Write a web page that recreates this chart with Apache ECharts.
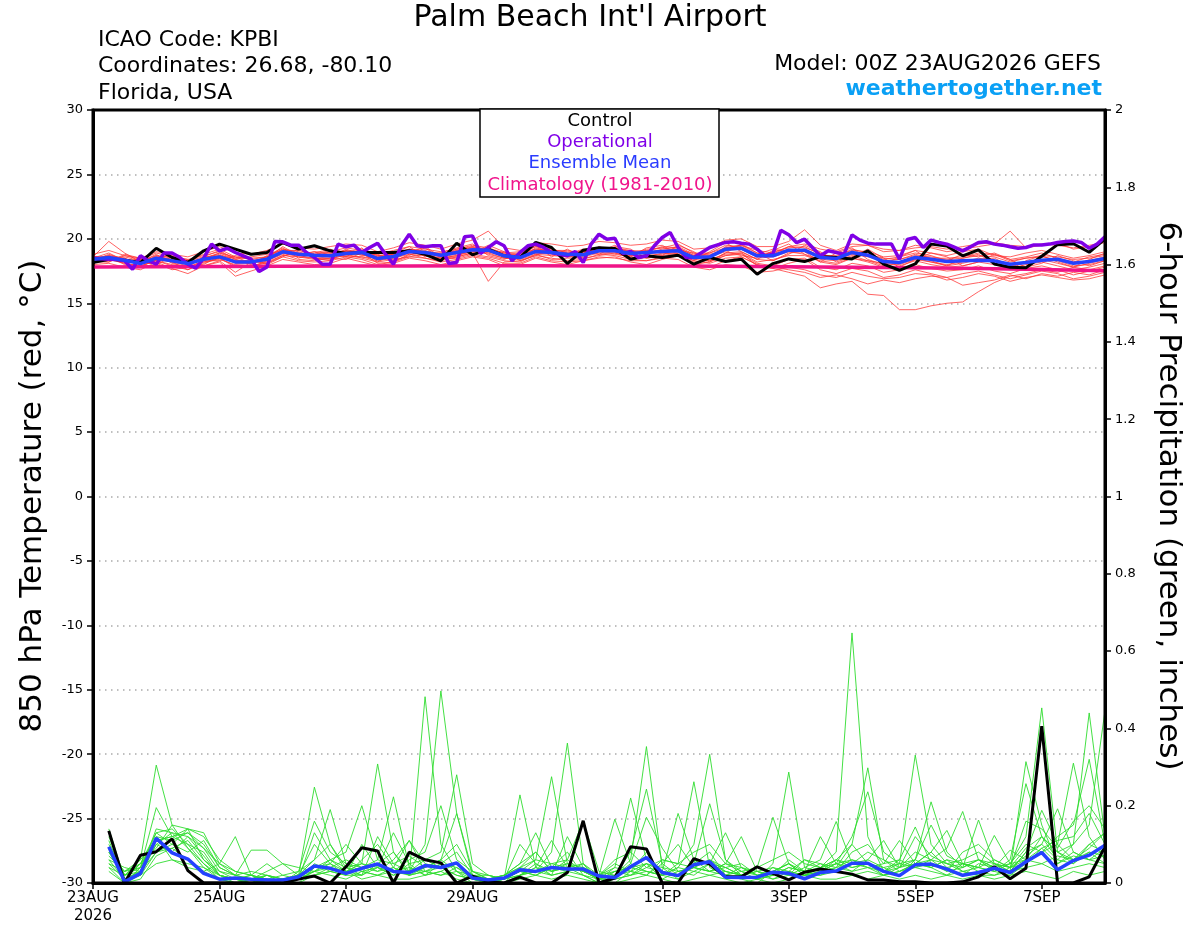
<!DOCTYPE html>
<html><head><meta charset="utf-8">
<script src="https://cdn.jsdelivr.net/npm/echarts@6/dist/echarts.min.js"></script>
<style>html,body{margin:0;padding:0;background:#fff}#c{width:1200px;height:927px}</style>
</head><body><div id="c"></div>
<script>
const FONT = 'DejaVu Sans';
const xTickHours = [0, 48, 96, 144, 216, 264, 312, 360];
const xTickLabels = ['23AUG\n2026', '25AUG', '27AUG', '29AUG', '1SEP', '3SEP', '5SEP', '7SEP'];

// 850 hPa temperature, 6-hourly from 00Z 23AUG (i*6 h)
const tempControl = [
18.16,18.42,18.34,18.16,19.27,18.55,18.16,19.07,19.59,19.20,
18.80,18.94,19.70,19.20,19.46,19.07,18.86,18.94,18.94,18.94,
19.07,18.80,18.29,19.66,18.76,19.20,18.68,18.55,19.72,19.33,
18.08,19.12,19.30,19.25,18.42,18.68,18.55,18.73,18.03,18.55,
18.24,18.42,17.25,18.08,18.44,18.24,18.60,18.55,18.44,19.07,
18.03,17.56,18.05,19.59,19.45,18.68,19.15,18.05,17.80,17.75,
18.65,19.55,19.62,18.96,20.00];
const tempEnsMean = [
18.42,18.55,18.34,18.08,18.50,18.29,18.08,18.42,18.60,18.21,
18.21,18.42,18.99,18.81,18.73,18.68,18.86,18.94,18.47,18.63,
19.02,18.94,18.73,18.94,19.15,19.12,18.68,18.55,19.02,18.94,
18.81,18.76,19.07,19.07,18.86,18.94,19.02,19.07,18.55,18.60,
19.20,19.27,18.68,18.68,19.12,19.12,18.55,18.47,18.94,18.73,
18.24,18.16,18.55,18.42,18.24,18.29,18.34,18.29,18.03,18.16,
18.34,18.42,18.11,18.24,18.47];
// operational, 3-hourly (k*3 h)
const tempOperational = [
18.50,18.45,18.42,18.40,18.30,17.64,18.68,18.30,18.03,18.90,
18.90,18.55,18.03,17.72,18.50,19.59,19.07,19.27,18.94,18.68,
18.42,17.46,17.82,19.79,19.77,19.51,19.51,18.94,18.55,18.03,
18.03,19.59,19.38,19.51,18.94,19.33,19.66,18.81,18.03,19.46,
20.36,19.46,19.38,19.46,19.46,18.08,18.16,20.16,20.23,18.86,
19.33,19.77,19.46,18.29,18.94,19.46,19.59,19.33,18.94,18.81,
18.68,19.02,18.16,19.59,20.36,
19.97,20.05,18.86,19.02,18.55,18.68,19.46,20.10,20.49,19.33,
18.55,18.55,18.94,19.33,19.53,19.72,19.77,19.66,19.59,19.20,
18.68,18.81,20.67,20.31,19.70,19.97,19.33,18.68,19.07,18.94,
18.81,20.31,19.90,19.66,19.59,19.59,19.59,18.42,19.95,20.10,
19.33,19.90,19.72,19.59,19.33,19.07,19.38,19.72,19.77,19.59,
19.51,19.38,19.27,19.33,19.53,19.53,19.59,19.72,19.79,19.84,
19.72,19.27,19.59,20.16];
// climatology, daily (d*24 h)
const tempClimatology = [17.82,17.84,17.86,17.88,17.89,17.90,17.91,17.91,17.90,17.89,17.87,17.84,17.80,17.75,17.69,17.61,17.53];

const tempMembers = [
[18.6,19.8,18.9,18.2,18.8,18.1,17.8,18.6,19.1,18.4, 18.0,18.7,19.3,18.5,18.9,19.2,18.6,19.3,18.2,18.9, 19.4,18.6,18.9,19.3,19.6,18.7,18.4,18.9,19.5,18.6, 19.2,18.5,19.4,19.0,18.6,19.3,19.5,18.8,18.3,19.0, 19.7,19.0,18.4,19.1,19.6,18.8,18.2,18.9,19.3,18.4, 18.0,18.6,19.1,18.3,17.9,18.5,18.8,18.1,17.6,18.3, 18.7,18.2,17.8,18.4,18.9],
[18.2,18.5,18.6,18.3,18.0,18.6,18.4,17.9,18.3,18.7, 18.4,18.0,18.6,19.2,18.5,18.3,19.1,18.7,18.8,18.3, 18.7,19.3,18.5,18.6,18.9,19.5,19.0,18.3,18.7,19.3, 18.6,19.0,18.8,19.4,19.2,18.5,18.7,19.5,19.0,18.2, 18.9,19.6,18.9,18.3,18.8,19.5,19.0,18.2,18.6,19.2, 18.5,17.8,18.4,18.9,18.6,17.9,18.2,18.8,18.4,17.8, 18.1,18.7,18.3,17.9,18.3],
[18.0,18.1,17.8,17.6,18.2,17.7,17.3,17.9,18.2,17.1, 17.5,17.9,18.4,18.2,18.0,18.1,18.5,18.2,17.9,18.1, 18.5,18.3,18.0,18.3,18.6,18.4,17.9,18.0,18.5,18.2, 18.0,18.3,18.5,18.6,18.2,18.0,18.4,18.7,18.1,17.8, 18.3,18.6,18.0,17.7,18.1,18.4,17.6,17.3,17.7,17.5, 17.0,17.2,17.6,17.3,17.0,17.3,17.5,17.2,16.9,17.2, 17.5,17.3,16.9,17.1,17.4],
[18.8,19.1,18.7,18.5,19.0,18.8,18.6,19.0,19.4,18.9, 18.8,19.1,19.6,19.3,19.2,19.4,19.6,19.5,19.0,19.3, 19.7,19.5,19.2,19.6,19.9,20.6,19.3,19.1,19.7,19.6, 19.4,19.5,19.8,19.7,19.5,19.6,19.9,19.8,19.2,19.3, 19.9,20.0,19.4,19.4,19.8,20.7,19.5,19.1,19.6,19.5, 19.0,19.1,19.5,19.3,19.0,19.2,19.4,19.6,20.6,19.3, 19.5,19.7,19.2,19.4,19.8],
[18.5,18.7,18.4,18.2,18.6,18.4,18.2,18.5,18.8,18.3, 18.3,18.5,19.1,18.9,18.7,18.8,19.0,19.0,18.6,18.7, 19.1,19.0,18.8,19.0,19.3,19.2,18.8,18.7,19.1,19.0, 18.9,18.9,19.2,19.1,18.9,18.8,19.0,19.2,18.6,18.4, 18.8,18.9,17.9,17.7,17.4,17.1,16.2,16.5,16.7,15.7, 15.6,14.5,14.5,14.8,15.0,15.1,15.9,16.6,17.1,17.3, 17.6,17.4,17.8,17.6,17.9],
[18.3,18.4,18.1,17.9,18.3,18.0,17.8,18.2,18.4,18.0, 17.9,18.2,18.7,18.6,18.4,18.5,18.7,18.6,18.3,18.5, 18.8,18.7,18.5,18.7,19.0,18.9,18.5,18.4,18.8,18.7, 18.6,18.6,18.9,18.8,18.6,18.5,18.7,18.9,18.3,18.1, 18.5,18.6,18.0,17.8,17.6,17.4,17.0,17.2,16.9,16.5, 16.8,16.6,16.9,17.1,17.0,16.4,16.6,16.8,17.2,16.9, 17.3,17.1,17.4,17.2,17.6],
[18.4,18.2,18.8,18.5,18.3,18.9,18.1,18.4,18.9,18.6, 18.1,18.5,19.4,18.7,19.0,18.6,19.2,18.8,18.4,19.0, 18.9,19.4,18.6,19.1,19.3,18.9,19.0,18.5,19.3,19.0, 18.7,19.1,19.0,19.5,18.8,19.2,19.3,19.6,18.9,18.5, 19.4,19.2,18.6,19.0,19.3,19.4,18.8,18.6,19.2,18.9, 18.4,18.6,18.9,18.7,18.3,18.8,18.6,18.9,18.4,18.6, 18.9,18.5,18.2,18.6,18.8],
[18.1,18.6,18.0,17.8,18.4,18.2,17.6,18.1,18.5,17.9, 17.8,18.3,18.8,18.4,18.3,18.5,18.4,18.9,18.1,18.2, 18.8,18.5,18.3,18.6,18.9,16.7,18.2,18.3,18.7,18.5, 18.3,18.4,18.8,18.7,18.4,18.3,18.6,18.8,18.0,18.2, 18.7,18.8,18.1,17.9,18.4,18.5,17.8,17.6,18.1,17.9, 17.4,17.6,18.0,17.7,17.5,17.6,17.9,17.5,17.3,17.7, 17.9,17.6,17.2,17.5,17.8],
[18.7,18.3,18.5,18.0,18.7,18.5,18.3,18.8,19.2,18.6, 18.4,18.6,19.2,19.0,18.6,19.0,19.3,19.1,18.7,18.8, 19.2,19.1,18.7,19.2,19.4,19.0,18.6,18.8,19.4,19.2, 18.9,19.0,19.3,19.2,19.0,18.9,19.2,19.4,18.8,18.7, 19.3,19.5,18.9,18.8,19.4,19.3,18.9,18.4,18.8,18.6, 18.3,18.4,18.8,18.5,18.5,18.6,18.9,18.8,18.3,18.5, 18.7,18.6,18.4,18.5,18.7],
[18.3,18.8,18.4,18.1,18.1,17.6,17.8,18.3,18.3,17.4, 18.2,18.4,18.9,18.6,18.5,18.4,18.8,18.5,18.2,18.4, 18.6,18.8,18.4,18.5,18.8,18.6,18.3,18.2,18.8,18.4, 18.5,18.5,18.7,18.9,18.5,18.6,18.9,18.8,18.2,18.3, 18.9,19.0,18.4,18.3,18.9,19.0,18.2,18.0,18.5,18.2, 17.8,17.9,18.3,18.0,17.8,17.9,18.2,18.0,17.7,18.0, 18.2,17.9,17.6,17.8,18.1],
[18.5,18.9,18.3,18.4,18.9,18.6,18.4,18.7,19.0,18.5, 18.6,18.8,19.1,19.1,18.8,19.1,19.0,19.2,18.8,19.1, 19.4,19.2,19.0,19.2,19.5,19.3,18.9,19.0,19.4,19.1, 19.1,18.9,19.3,19.3,19.1,19.0,19.4,19.3,18.7,18.9, 19.5,19.4,18.8,19.2,19.0,19.2,18.7,18.7,19.1,19.0, 18.6,18.7,19.1,18.9,18.7,19.0,19.2,18.7,18.6,18.9, 19.1,18.8,18.5,18.7,19.0],
[18.2,18.2,18.7,18.4,18.5,18.2,17.9,18.0,18.7,18.3, 18.3,18.1,18.7,18.9,18.6,18.8,18.6,18.6,18.5,18.6, 19.0,18.9,18.6,18.8,19.0,19.1,18.7,18.6,18.9,18.9, 18.7,18.7,19.0,18.9,18.7,19.1,18.9,19.1,18.5,18.6, 19.0,18.7,18.5,18.6,19.0,18.8,18.4,18.3,18.7,18.3, 18.1,18.0,18.4,18.2,17.9,18.1,18.4,18.5,17.9,18.1, 18.4,18.3,17.9,18.0,18.3],
[18.4,18.5,18.1,17.9,18.3,17.9,17.6,18.2,18.5,17.8, 17.9,18.1,18.6,18.3,18.2,18.3,18.6,18.4,18.0,18.2, 18.6,18.5,18.2,18.4,18.7,18.5,18.1,18.1,18.6,18.3, 18.2,18.3,18.6,18.5,18.3,18.3,18.5,18.4,17.8,17.6, 18.0,17.9,17.4,17.5,17.8,17.6,17.2,17.0,17.4,17.1, 16.9,17.0,17.3,17.2,16.8,17.0,17.3,17.1,16.7,17.0, 17.2,17.0,16.8,16.9,17.2],
[18.6,18.6,18.2,18.3,18.7,18.3,18.0,18.5,18.9,18.4, 18.2,18.6,19.0,18.8,18.8,18.9,19.0,19.0,18.7,18.8, 19.2,19.0,18.8,19.1,19.3,19.1,18.8,18.9,19.2,19.1, 19.0,19.0,19.1,19.3,19.0,19.1,19.3,19.1,18.9,18.9, 19.3,19.5,19.1,18.9,19.4,19.6,19.2,19.0,19.4,19.5, 19.2,19.1,19.3,19.4,19.2,19.4,19.6,19.7,19.5,19.4, 19.6,19.5,19.3,19.5,19.7],
[18.3,18.7,18.5,18.0,18.6,18.3,18.2,18.3,18.7,18.1, 18.1,18.3,18.9,18.7,18.5,18.6,18.9,18.8,18.4,18.5, 18.9,18.8,18.5,18.7,19.1,18.8,18.5,18.5,18.9,18.8, 18.6,18.7,19.0,19.0,18.7,18.7,18.8,19.0,18.4,18.3, 18.7,18.9,18.2,18.4,18.7,18.7,18.3,18.1,18.5,18.3, 17.9,18.1,18.5,18.2,18.0,18.2,18.5,18.3,17.8,18.2, 18.4,18.1,17.8,18.1,18.4],
[18.6,18.4,18.3,18.4,18.5,18.7,18.3,18.6,18.7,18.5, 18.5,18.6,19.2,18.8,19.0,18.9,19.1,18.9,18.6,18.8, 19.1,19.0,18.9,19.0,19.4,19.2,18.9,18.7,19.2,19.0, 18.8,19.2,19.2,19.0,18.9,18.9,19.1,19.3,18.7,18.8, 19.1,19.2,18.6,18.8,19.2,19.0,18.6,18.6,19.0,18.8, 18.5,18.4,18.7,18.6,18.4,18.5,18.7,18.6,18.2,18.5, 18.6,18.4,18.1,18.3,18.6]
];

// 6-hour precipitation (inches), ending at (i+1)*6 h
const precipControl = [
0.135,0.000,0.072,0.081,0.114,0.032,0.000,0.000,
0.000,0.000,0.000,0.000,0.010,0.018,0.000,0.042,
0.091,0.083,0.000,0.080,0.060,0.052,0.000,0.018,
0.003,0.000,0.015,0.000,0.000,0.027,0.161,0.000,
0.013,0.094,0.088,0.000,0.000,0.063,0.049,0.016,
0.016,0.042,0.025,0.008,0.028,0.036,0.030,0.023,
0.008,0.008,0.003,0.003,0.000,0.000,0.003,0.016,
0.042,0.011,0.038,0.406,0.000,0.000,0.016,0.094];
const precipEnsMean = [
0.094,0.003,0.025,0.116,0.078,0.062,0.025,0.010,
0.013,0.010,0.008,0.008,0.016,0.044,0.038,0.025,
0.038,0.049,0.030,0.027,0.045,0.040,0.052,0.013,
0.008,0.013,0.034,0.030,0.040,0.036,0.036,0.018,
0.014,0.042,0.066,0.027,0.019,0.047,0.055,0.015,
0.014,0.015,0.028,0.025,0.011,0.027,0.031,0.051,
0.051,0.030,0.019,0.047,0.049,0.036,0.020,0.027,
0.038,0.027,0.055,0.079,0.034,0.058,0.072,0.098];
const precipMembers = [
[0.12,0.02,0.06,0.305,0.15,0.09,0.04,0.01, 0.00,0.01,0.02,0.00,0.01,0.05,0.03,0.02, 0.06,0.10,0.04,0.02,0.482,0.10,0.03,0.00, 0.00,0.01,0.03,0.02,0.04,0.08,0.02,0.00, 0.02,0.06,0.353,0.04,0.01,0.05,0.08,0.02, 0.01,0.00,0.03,0.05,0.02,0.04,0.08,0.647, 0.12,0.03,0.02,0.06,0.04,0.02,0.05,0.03, 0.02,0.04,0.09,0.12,0.06,0.10,0.44,0.12],
[0.09,0.00,0.04,0.195,0.12,0.14,0.06,0.02, 0.01,0.00,0.00,0.01,0.02,0.03,0.06,0.04, 0.02,0.05,0.08,0.03,0.10,0.497,0.18,0.02, 0.01,0.00,0.02,0.05,0.03,0.06,0.03,0.01, 0.00,0.03,0.08,0.02,0.04,0.10,0.333,0.06, 0.02,0.01,0.04,0.02,0.01,0.03,0.06,0.10, 0.05,0.02,0.04,0.08,0.06,0.03,0.04,0.06, 0.03,0.05,0.12,0.453,0.08,0.05,0.10,0.08],
[0.05,0.01,0.03,0.14,0.13,0.12,0.07,0.02, 0.00,0.01,0.00,0.00,0.02,0.248,0.10,0.03, 0.05,0.308,0.08,0.02,0.04,0.06,0.03,0.01, 0.00,0.00,0.04,0.03,0.08,0.362,0.05,0.00, 0.03,0.02,0.05,0.01,0.03,0.04,0.06,0.03, 0.02,0.01,0.05,0.287,0.04,0.03,0.05,0.06, 0.04,0.02,0.03,0.05,0.08,0.04,0.02,0.05, 0.04,0.03,0.314,0.15,0.05,0.08,0.06,0.09],
[0.07,0.03,0.05,0.13,0.14,0.10,0.05,0.01, 0.01,0.00,0.02,0.01,0.00,0.04,0.06,0.08, 0.20,0.06,0.223,0.04,0.02,0.05,0.08,0.02, 0.00,0.01,0.03,0.06,0.275,0.05,0.03,0.01, 0.02,0.08,0.243,0.05,0.02,0.04,0.03,0.02, 0.04,0.03,0.02,0.06,0.03,0.02,0.04,0.10, 0.298,0.06,0.03,0.05,0.04,0.06,0.03,0.02, 0.05,0.04,0.06,0.12,0.08,0.10,0.15,0.446],
[0.10,0.02,0.04,0.12,0.06,0.04,0.03,0.05, 0.12,0.02,0.01,0.00,0.01,0.03,0.02,0.01, 0.03,0.04,0.02,0.05,0.06,0.08,0.28,0.05, 0.02,0.01,0.228,0.04,0.02,0.03,0.05,0.01, 0.04,0.03,0.02,0.06,0.05,0.262,0.04,0.02, 0.03,0.01,0.02,0.04,0.03,0.05,0.04,0.03, 0.06,0.04,0.05,0.331,0.10,0.05,0.03,0.04, 0.03,0.02,0.05,0.08,0.10,0.31,0.12,0.06],
[0.08,0.01,0.02,0.10,0.08,0.12,0.09,0.03, 0.02,0.085,0.085,0.05,0.02,0.06,0.19,0.05, 0.03,0.02,0.04,0.02,0.03,0.02,0.04,0.01, 0.01,0.00,0.02,0.04,0.03,0.05,0.04,0.02, 0.165,0.05,0.03,0.02,0.04,0.03,0.05,0.04, 0.02,0.03,0.01,0.02,0.04,0.06,0.159,0.05, 0.04,0.03,0.05,0.06,0.21,0.08,0.04,0.06, 0.05,0.03,0.08,0.188,0.10,0.06,0.08,0.05],
[0.06,0.04,0.03,0.12,0.11,0.13,0.10,0.04, 0.02,0.01,0.03,0.05,0.04,0.03,0.05,0.10, 0.05,0.03,0.04,0.11,0.03,0.02,0.03,0.02, 0.01,0.02,0.05,0.08,0.03,0.04,0.03,0.02, 0.04,0.22,0.06,0.03,0.02,0.06,0.05,0.03, 0.02,0.04,0.17,0.05,0.03,0.04,0.06,0.04, 0.05,0.03,0.06,0.145,0.05,0.04,0.05,0.04, 0.06,0.04,0.07,0.10,0.192,0.08,0.06,0.07],
[0.04,0.02,0.05,0.09,0.15,0.14,0.12,0.06, 0.03,0.02,0.01,0.02,0.03,0.16,0.08,0.05, 0.04,0.05,0.03,0.06,0.08,0.20,0.06,0.03, 0.02,0.01,0.03,0.02,0.04,0.05,0.03,0.02, 0.03,0.04,0.05,0.03,0.18,0.06,0.03,0.05, 0.04,0.02,0.03,0.05,0.02,0.03,0.05,0.12, 0.236,0.08,0.05,0.04,0.06,0.09,0.185,0.06, 0.04,0.05,0.10,0.08,0.12,0.15,0.32,0.10],
[0.03,0.00,0.02,0.08,0.10,0.14,0.13,0.05, 0.02,0.01,0.02,0.01,0.02,0.04,0.05,0.03, 0.02,0.12,0.05,0.03,0.04,0.06,0.18,0.03, 0.01,0.02,0.05,0.13,0.04,0.03,0.02,0.00, 0.01,0.02,0.04,0.03,0.02,0.05,0.205,0.06, 0.03,0.02,0.01,0.03,0.02,0.03,0.04,0.06, 0.05,0.04,0.02,0.05,0.08,0.136,0.05,0.04, 0.03,0.06,0.257,0.12,0.08,0.06,0.10,0.13],
[0.05,0.03,0.06,0.11,0.12,0.10,0.08,0.02, 0.01,0.00,0.01,0.00,0.01,0.03,0.04,0.06, 0.04,0.03,0.06,0.11,0.05,0.04,0.02,0.01, 0.00,0.00,0.02,0.03,0.05,0.06,0.16,0.03, 0.02,0.03,0.05,0.04,0.03,0.02,0.05,0.13, 0.04,0.02,0.03,0.05,0.02,0.04,0.03,0.05, 0.06,0.11,0.04,0.05,0.06,0.05,0.04,0.163, 0.05,0.03,0.08,0.10,0.06,0.05,0.08,0.07],
[0.14,0.01,0.03,0.08,0.09,0.11,0.06,0.03, 0.01,0.02,0.00,0.01,0.02,0.02,0.03,0.04, 0.03,0.02,0.03,0.04,0.03,0.05,0.04,0.02, 0.01,0.01,0.02,0.04,0.11,0.04,0.02,0.01, 0.03,0.04,0.03,0.02,0.05,0.04,0.03,0.05, 0.12,0.03,0.02,0.04,0.03,0.12,0.05,0.03, 0.04,0.05,0.11,0.05,0.04,0.06,0.05,0.04, 0.123,0.05,0.06,0.09,0.05,0.07,0.06,0.05],
[0.09,0.02,0.03,0.10,0.13,0.09,0.05,0.02, 0.01,0.02,0.01,0.00,0.03,0.06,0.10,0.04, 0.05,0.04,0.13,0.05,0.02,0.03,0.05,0.02, 0.01,0.02,0.04,0.08,0.03,0.04,0.03,0.01, 0.02,0.05,0.17,0.09,0.03,0.04,0.06,0.04, 0.02,0.03,0.04,0.03,0.06,0.04,0.05,0.04, 0.05,0.03,0.04,0.06,0.15,0.07,0.05,0.06, 0.04,0.085,0.06,0.05,0.07,0.06,0.09,0.13],
[0.06,0.01,0.02,0.05,0.06,0.05,0.04,0.02, 0.01,0.01,0.00,0.01,0.01,0.02,0.03,0.02, 0.02,0.04,0.03,0.02,0.03,0.04,0.02,0.01, 0.00,0.01,0.02,0.03,0.02,0.03,0.04,0.01, 0.01,0.02,0.03,0.02,0.01,0.03,0.02,0.03, 0.02,0.01,0.02,0.03,0.02,0.02,0.03,0.02, 0.03,0.02,0.03,0.04,0.03,0.02,0.03,0.02, 0.02,0.03,0.04,0.05,0.03,0.04,0.05,0.04],
[0.04,0.00,0.01,0.07,0.09,0.06,0.03,0.01, 0.00,0.00,0.01,0.00,0.00,0.02,0.04,0.03, 0.01,0.02,0.01,0.01,0.02,0.03,0.01,0.00, 0.00,0.00,0.01,0.02,0.01,0.02,0.01,0.00, 0.00,0.01,0.02,0.01,0.00,0.01,0.02,0.01, 0.00,0.01,0.00,0.01,0.02,0.01,0.01,0.02, 0.01,0.02,0.01,0.02,0.01,0.02,0.01,0.02, 0.01,0.02,0.03,0.02,0.01,0.03,0.02,0.03],
[0.08,0.03,0.04,0.13,0.10,0.08,0.11,0.04, 0.02,0.03,0.02,0.01,0.02,0.10,0.05,0.02, 0.10,0.04,0.02,0.03,0.06,0.04,0.05,0.02, 0.02,0.01,0.10,0.05,0.02,0.12,0.04,0.02, 0.05,0.03,0.02,0.05,0.10,0.04,0.03,0.04, 0.05,0.02,0.03,0.02,0.06,0.05,0.03,0.08, 0.10,0.05,0.06,0.04,0.05,0.03,0.08,0.10, 0.06,0.04,0.05,0.09,0.11,0.12,0.18,0.10],
[0.11,0.01,0.05,0.11,0.12,0.13,0.09,0.05, 0.03,0.02,0.05,0.02,0.01,0.13,0.06,0.03, 0.04,0.06,0.05,0.07,0.04,0.06,0.10,0.03, 0.01,0.02,0.04,0.06,0.05,0.04,0.05,0.02, 0.06,0.08,0.04,0.06,0.05,0.08,0.10,0.05, 0.03,0.04,0.06,0.08,0.05,0.04,0.06,0.05, 0.08,0.06,0.04,0.12,0.07,0.05,0.06,0.08, 0.05,0.04,0.16,0.14,0.09,0.16,0.20,0.14]
];

const RED = 'rgba(255,50,50,0.85)';
const GREEN = '#2fdc2f';
const BLACK = '#000000';
const PURPLE = '#7f00e6';
const BLUE = '#2441ff';
const PINK = '#f01488';

function line(data, color, width, yIdx) {
  return { type: 'line', data: data, yAxisIndex: yIdx, showSymbol: false, symbol: 'none',
    lineStyle: { color: color, width: width }, silent: true, animation: false, clip: true,
    emphasis: { disabled: true } };
}
const t6 = a => a.map((v, k) => [k * 6, v]);
const p6 = a => a.map((v, k) => [(k + 1) * 6, v]);
const t3 = a => a.map((v, k) => [k * 3, v]);
const t24 = a => a.map((v, k) => [k * 24, v]);

const series = [];
precipMembers.forEach(m => series.push(line(p6(m), GREEN, 0.9, 1)));
tempMembers.forEach(m => series.push(line(t6(m), RED, 0.9, 0)));
series.push(line(t24(tempClimatology), PINK, 3.5, 0));
series.push(line(p6(precipControl), BLACK, 3, 1));
series.push(line(t6(tempControl), BLACK, 3, 0));
series.push(line(t3(tempOperational), PURPLE, 3.5, 0));
series.push(line(p6(precipEnsMean), BLUE, 3.5, 1));
series.push(line(t6(tempEnsMean), BLUE, 3.5, 0));

const labelMap = {};
xTickHours.forEach((h, k) => labelMap[h] = xTickLabels[k]);

const chart = echarts.init(document.getElementById('c'), null, { renderer: 'canvas' });
chart.setOption({
  animation: false,
  backgroundColor: '#ffffff',
  textStyle: { fontFamily: FONT },
  grid: { left: 93, right: 95, top: 110, bottom: 44, show: false,
    containLabel: false, outerBoundsMode: 'none' },
  xAxis: {
    type: 'value', min: 0, max: 384,
    axisLine: { show: true, onZero: false, lineStyle: { color: '#000', width: 3 } },
    axisTick: { show: true, customValues: xTickHours, length: 6, lineStyle: { color: '#000', width: 1.5 } },
    axisLabel: { show: true, customValues: xTickHours, formatter: v => labelMap[v] || '',
      color: '#000', fontFamily: FONT, fontSize: 15, margin: 6, lineHeight: 18 },
    splitLine: { show: false }
  },
  yAxis: [
    { type: 'value', min: -30, max: 30, interval: 5, position: 'left',
      axisLine: { show: true, onZero: false, lineStyle: { color: '#000', width: 3 } },
      axisTick: { show: true, length: 6, lineStyle: { color: '#000', width: 1.5 } },
      axisLabel: { color: '#000', fontFamily: FONT, fontSize: 13, margin: 10 },
      splitLine: { show: true, lineStyle: { color: '#aaaaaa', width: 1.5, type: [1.5, 4.5] } } },
    { type: 'value', min: 0, max: 2, interval: 0.2, position: 'right',
      axisLine: { show: true, onZero: false, lineStyle: { color: '#000', width: 3 } },
      axisTick: { show: true, length: 6, lineStyle: { color: '#000', width: 1.5 } },
      axisLabel: { color: '#000', fontFamily: FONT, fontSize: 13, margin: 10,
        formatter: v => String(+(+v).toFixed(1)) },
      splitLine: { show: false } }
  ],
  graphic: [
    { type: 'rect', z: 50, silent: true, shape: { x: 93, y: 110, width: 1012, height: 773 }, style: { fill: 'none', stroke: '#000', lineWidth: 3 } },
    { type: 'text', z: 100, style: { text: "Palm Beach Int'l Airport", x: 590, y: 18, textAlign: 'center', textVerticalAlign: 'middle', font: 'normal 30px "DejaVu Sans"', fill: '#000' } },
    { type: 'text', z: 100, style: { text: 'ICAO Code: KPBI', x: 98, y: 40, textAlign: 'left', textVerticalAlign: 'middle', font: 'normal 22px "DejaVu Sans"', fill: '#000' } },
    { type: 'text', z: 100, style: { text: 'Coordinates: 26.68, -80.10', x: 98, y: 66, textAlign: 'left', textVerticalAlign: 'middle', font: 'normal 22px "DejaVu Sans"', fill: '#000' } },
    { type: 'text', z: 100, style: { text: 'Florida, USA', x: 98, y: 93, textAlign: 'left', textVerticalAlign: 'middle', font: 'normal 22px "DejaVu Sans"', fill: '#000' } },
    { type: 'text', z: 100, style: { text: 'Model: 00Z 23AUG2026 GEFS', x: 1101, y: 64, textAlign: 'right', textVerticalAlign: 'middle', font: 'normal 22px "DejaVu Sans"', fill: '#000' } },
    { type: 'text', z: 100, style: { text: 'weathertogether.net', x: 1102, y: 89, textAlign: 'right', textVerticalAlign: 'middle', font: 'bold 22px "DejaVu Sans"', fill: '#0aa0f5' } },
    { type: 'text', z: 100, x: 33, y: 496, rotation: Math.PI / 2, style: { text: '850 hPa Temperature (red, °C)', x: 0, y: 0, textAlign: 'center', textVerticalAlign: 'middle', font: 'normal 31px "DejaVu Sans"', fill: '#000' } },
    { type: 'text', z: 100, x: 1168, y: 496, rotation: -Math.PI / 2, style: { text: '6-hour Precipitation (green, inches)', x: 0, y: 0, textAlign: 'center', textVerticalAlign: 'middle', font: 'normal 31px "DejaVu Sans"', fill: '#000' } },
    { type: 'rect', z: 100, shape: { x: 480, y: 109, width: 239, height: 88 }, style: { fill: '#fff', stroke: '#000', lineWidth: 1.5 } },
    { type: 'text', z: 101, style: { text: 'Control', x: 600, y: 121, textAlign: 'center', textVerticalAlign: 'middle', font: 'normal 18px "DejaVu Sans"', fill: '#000' } },
    { type: 'text', z: 101, style: { text: 'Operational', x: 600, y: 142, textAlign: 'center', textVerticalAlign: 'middle', font: 'normal 18px "DejaVu Sans"', fill: '#8000e8' } },
    { type: 'text', z: 101, style: { text: 'Ensemble Mean', x: 600, y: 163, textAlign: 'center', textVerticalAlign: 'middle', font: 'normal 18px "DejaVu Sans"', fill: '#2a3cff' } },
    { type: 'text', z: 101, style: { text: 'Climatology (1981-2010)', x: 600, y: 185, textAlign: 'center', textVerticalAlign: 'middle', font: 'normal 18px "DejaVu Sans"', fill: '#f0148c' } }
  ],
  series: series
});
</script>
</body></html>
